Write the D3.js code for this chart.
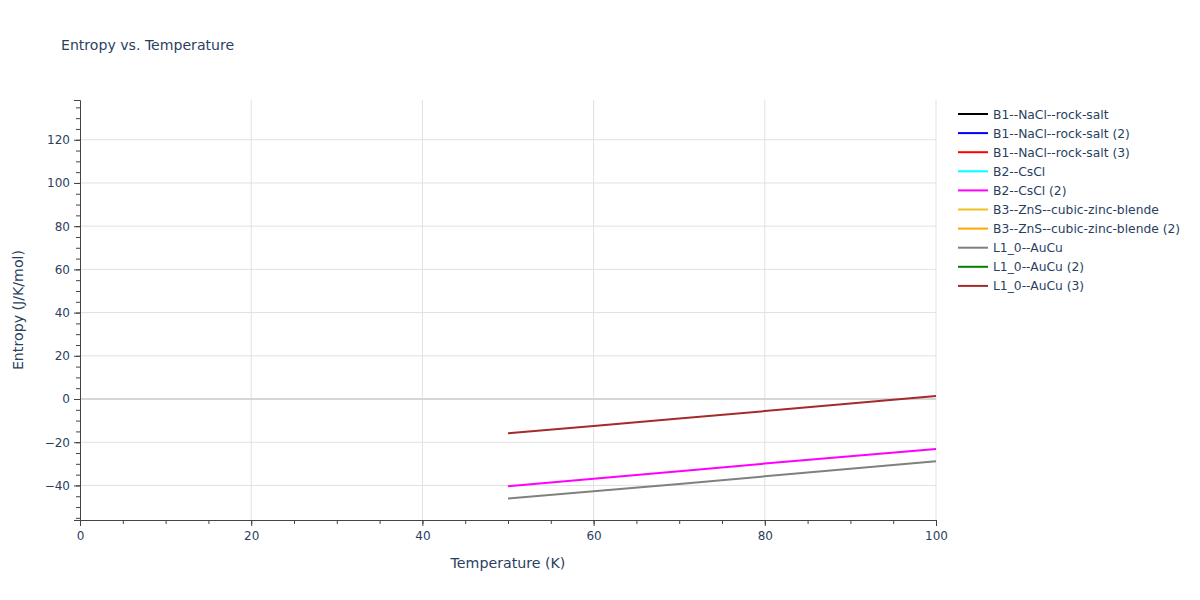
<!DOCTYPE html>
<html><head><meta charset="utf-8">
<script src="https://cdn.jsdelivr.net/npm/d3@7"></script>
<style>body{margin:0;background:#fff;} svg text{font-family:"DejaVu Sans",verdana,sans-serif;}</style>
</head><body><svg id="c" width="1200" height="600"></svg>
<script>
const seriesNames = ["B1--NaCl--rock-salt","B1--NaCl--rock-salt (2)","B1--NaCl--rock-salt (3)","B2--CsCl","B2--CsCl (2)","B3--ZnS--cubic-zinc-blende","B3--ZnS--cubic-zinc-blende (2)","L1_0--AuCu","L1_0--AuCu (2)","L1_0--AuCu (3)"];
const seriesColors = ["black","blue","red","cyan","magenta","#f0c020","orange","gray","green","brown"];
const temperature = [50,60,70,80,90,100];
const entB2CsCl2 = [-40.4,-36.9,-33.4,-29.9,-26.5,-23.1];
const entL10AuCu = [-46.1,-42.7,-39.3,-35.8,-32.3,-28.8];
const entL10AuCu3 = [-15.9,-12.5,-9.0,-5.6,-2.1,1.4];
const seriesValues = [[],[],[],[],entB2CsCl2,[],[],entL10AuCu,[],entL10AuCu3];
const xTicks = [0,20,40,60,80,100];
const yTicks = [-40,-20,0,20,40,60,80,100,120];

const svg = d3.select("#c");
const L=80,R=936,T=100,B=520;
const x = d3.scaleLinear().domain([0,100]).range([L,R]);
const y = d3.scaleLinear().domain([-56,138.4]).range([B,T]);
const txt="#2a3f5f";

// grid
svg.append("g").selectAll("line").data(xTicks.filter(d=>d>0)).join("line")
  .attr("x1",d=>x(d)).attr("x2",d=>x(d)).attr("y1",T).attr("y2",B)
  .attr("stroke","#e1e1e1").attr("stroke-width",1);
svg.append("g").selectAll("line").data(yTicks.filter(d=>d!==0)).join("line")
  .attr("x1",L).attr("x2",R).attr("y1",d=>y(d)).attr("y2",d=>y(d))
  .attr("stroke","#e1e1e1").attr("stroke-width",1);
svg.append("line").attr("x1",L).attr("x2",R).attr("y1",y(0)).attr("y2",y(0))
  .attr("stroke","#d6d6d6").attr("stroke-width",2);

// lines
const line = d3.line().x((d,i)=>x(temperature[i])).y(d=>y(d));
seriesValues.forEach((vals,k)=>{
  if(!vals.length) return;
  svg.append("path").attr("d",line(vals)).attr("fill","none")
    .attr("stroke",seriesColors[k]).attr("stroke-width",2);
});

// axes
const xMinor = d3.range(0,101,5);
const yMinor = d3.range(-55,139,5);
const gx = svg.append("g").attr("transform",`translate(0,${B})`)
  .call(d3.axisBottom(x).tickValues(xMinor).tickSize(4).tickFormat(""));
gx.select(".domain").remove();
gx.selectAll("line").attr("stroke","#444");
const gx2 = svg.append("g").attr("transform",`translate(0,${B})`)
  .call(d3.axisBottom(x).tickValues(xTicks).tickSize(6).tickPadding(5).tickFormat(d3.format("d")));
gx2.select(".domain").attr("stroke","#444");
gx2.selectAll("line").attr("stroke","#444");
gx2.selectAll("text").attr("fill",txt).attr("font-size",12).attr("font-family",null);

const gy = svg.append("g").attr("transform",`translate(${L},0)`)
  .call(d3.axisLeft(y).tickValues(yMinor).tickSize(4).tickFormat(""));
gy.select(".domain").remove();
gy.selectAll("line").attr("stroke","#444");
const gy2 = svg.append("g").attr("transform",`translate(${L},0)`)
  .call(d3.axisLeft(y).tickValues(yTicks).tickSize(6).tickPadding(4).tickFormat(d=>d<0?"\u2212"+Math.abs(d):d));
gy2.select(".domain").attr("stroke","#444");
gy2.selectAll("line").attr("stroke","#444");
gy2.selectAll("text").attr("fill",txt).attr("font-size",12).attr("font-family",null);

// titles
svg.append("text").attr("x",61).attr("y",50).attr("fill",txt).attr("font-size",14.1).text("Entropy vs. Temperature");
svg.append("text").attr("x",508).attr("y",568).attr("text-anchor","middle").attr("fill",txt).attr("font-size",14.2).text("Temperature (K)");
svg.append("text").attr("transform","translate(23,310) rotate(-90)").attr("text-anchor","middle").attr("fill",txt).attr("font-size",14.2).text("Entropy (J/K/mol)");

// legend
const lg = svg.append("g");
seriesNames.forEach((n,i)=>{
  const yy = 114 + i*19.1;
  lg.append("line").attr("x1",958).attr("x2",988).attr("y1",yy).attr("y2",yy).attr("stroke",seriesColors[i]).attr("stroke-width",2);
  lg.append("text").attr("x",993).attr("y",yy+4.5).attr("fill",txt).attr("font-size",12.3).text(n);
});
</script></body></html>
